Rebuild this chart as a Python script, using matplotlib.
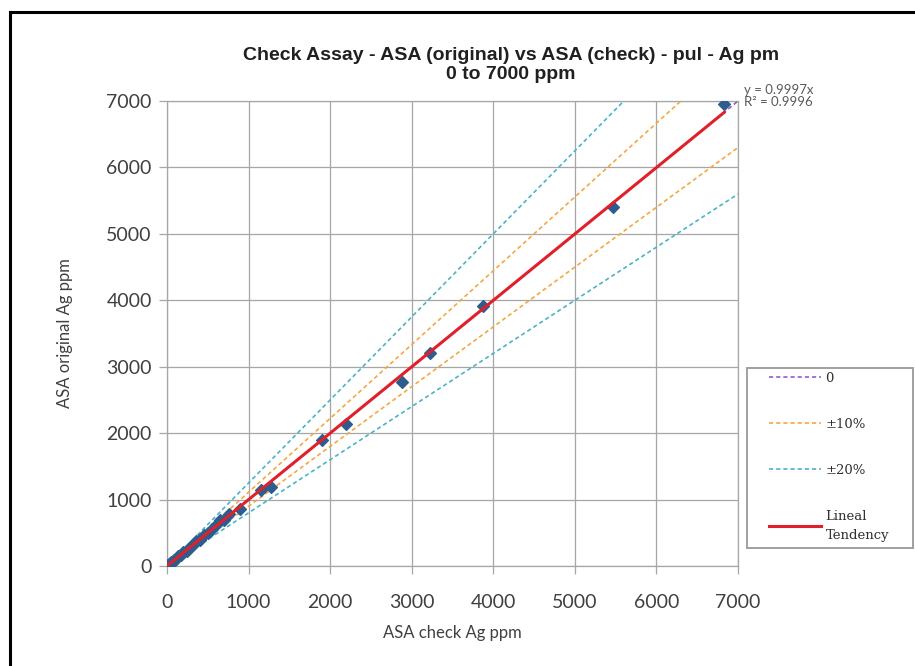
import numpy as np
import matplotlib
matplotlib.use("Agg")
import matplotlib.pyplot as plt
from matplotlib.lines import Line2D
from matplotlib.patches import Rectangle

# valores (ASA check vs ASA original, Ag ppm)
check_ppm = [15, 30, 50, 70, 90, 110, 140, 170, 200, 240, 280, 320, 360, 400,
             450, 500, 550, 600, 650, 700, 760, 900, 1150, 1270, 1900, 2190,
             2880, 3230, 3870, 5470, 6830]
original_ppm = [20, 25, 55, 65, 95, 105, 150, 160, 210, 230, 290, 310, 370, 390,
                460, 490, 560, 620, 700, 690, 780, 860, 1150, 1190, 1900, 2140,
                2770, 3200, 3920, 5400, 6960]

pendente = 0.9997
r2 = 0.9996
limites_x = [0, 7000]
ticks = [0, 1000, 2000, 3000, 4000, 5000, 6000, 7000]

titulo = "Check Assay - ASA (original) vs ASA (check) - pul - Ag pm\n0 to 7000 ppm"

W, H = 915, 666
fig = plt.figure(figsize=(W / 100, H / 100), dpi=100)
ax = fig.add_axes([167 / W, 1 - 566 / H, (738 - 167) / W, (566 - 101) / H])

# moldura externa (so aparecem os lados esquerdo e superior)
fig.add_artist(Line2D([10 / W, 10 / W], [0, 1 - 12 / H], transform=fig.transFigure,
                      color="black", lw=2.2))
fig.add_artist(Line2D([10 / W, 1], [1 - 12 / H, 1 - 12 / H], transform=fig.transFigure,
                      color="black", lw=2.2))

xs = np.array(limites_x, dtype=float)
c_zero = "#9b59c9"
c_10 = "#f5a742"
c_20 = "#4bb3c8"
c_red = "#e0202a"
dash = (0, (2.5, 1.8))

ax.plot(xs, xs, color=c_zero, ls=dash, lw=1.2, label="0", zorder=3)
ax.plot(xs, xs / 0.9, color=c_10, ls=dash, lw=1.2, label="±10%", zorder=3)
ax.plot(xs, xs * 0.9, color=c_10, ls=dash, lw=1.2, zorder=3)
ax.plot(xs, xs / 0.8, color=c_20, ls=dash, lw=1.2, label="±20%", zorder=3)
ax.plot(xs, xs * 0.8, color=c_20, ls=dash, lw=1.2, zorder=3)

ax.scatter(check_ppm, original_ppm, marker="D", s=36, color="#2c5d8c",
           edgecolors="#2c5d8c", zorder=4)

x_tend = np.array([0, max(check_ppm)], dtype=float)
ax.plot(x_tend, pendente * x_tend, color=c_red, lw=2.2, label="Lineal\nTendency", zorder=5)

ax.set_xlim(limites_x)
ax.set_ylim(limites_x)
ax.set_xticks(ticks)
ax.set_yticks(ticks)
ax.grid(True, color="#a6a6a6", lw=0.9)
ax.set_axisbelow(True)
for s in ax.spines.values():
    s.set_color("#a6a6a6")
    s.set_linewidth(0.9)
ax.tick_params(colors="#a6a6a6", labelcolor="#404040", labelsize=14,
               length=6, width=0.9)
ax.tick_params(axis="x", pad=14)
ax.tick_params(axis="y", pad=5)
for lab in ax.get_xticklabels() + ax.get_yticklabels():
    lab.set_family("Lato")

ax.set_xlabel("ASA check Ag ppm", family="Lato", fontsize=12, color="#404040", labelpad=10)
ax.set_ylabel("ASA original Ag ppm", family="Lato", fontsize=12, color="#404040", labelpad=24)

fig.text(511 / W, 1 - 65 / H, titulo, ha="center", va="center", fontsize=14,
         fontweight="bold", family="Liberation Sans", color="#202020", linespacing=1.2)
fig.text(744 / W, 1 - 90 / H, f"y = {pendente}x", fontsize=9.5, family="Lato",
         color="#595959", va="center")
fig.text(744 / W, 1 - 102 / H, f"R² = {r2}", fontsize=9.5, family="Lato",
         color="#595959", va="center")

# caixa da legenda desenhada a parte, para ficar na posicao exata
fig.add_artist(Rectangle((747 / W, 1 - 548 / H), (913 - 747) / W, (548 - 368) / H,
                         transform=fig.transFigure, fill=False, edgecolor="#a0a0a0",
                         lw=1.4))
leg = ax.legend(loc="upper left", bbox_to_anchor=(766 / W, 1 - 369 / H),
                bbox_transform=fig.transFigure, borderaxespad=0, frameon=False,
                labelspacing=2.5, handlelength=4.0, handletextpad=0.3, borderpad=0.2,
                prop={"family": "DejaVu Serif", "size": 9.5})
for t in leg.get_texts():
    t.set_color("#303030")
leg.get_texts()[-1].set_linespacing(1.6)

fig.savefig("out.png", dpi=100)
